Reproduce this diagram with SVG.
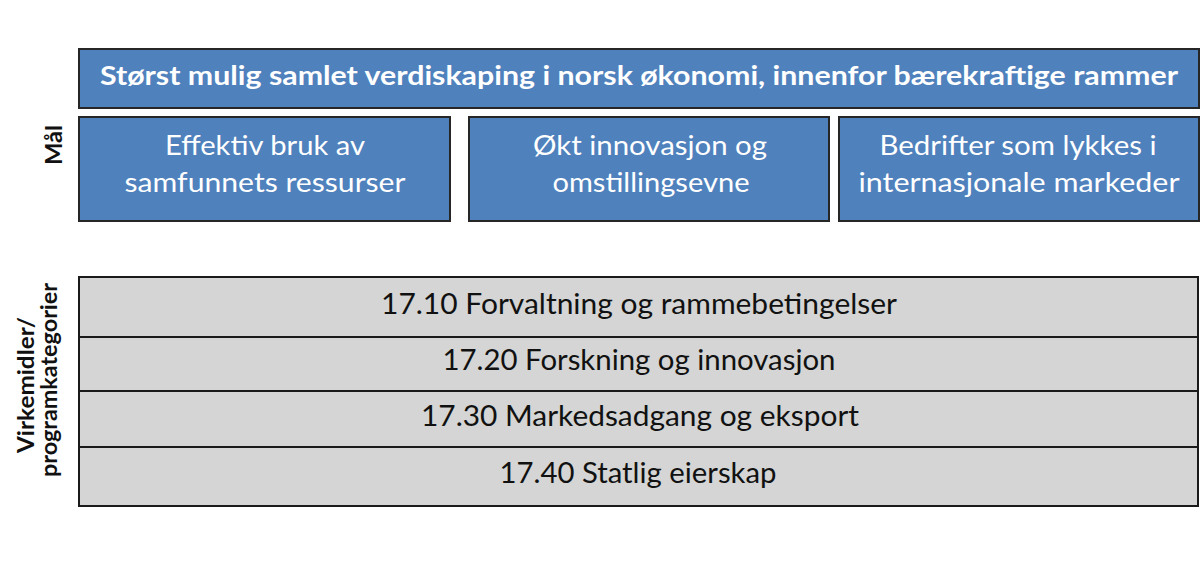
<svg xmlns="http://www.w3.org/2000/svg" width="1200" height="579" viewBox="0 0 1200 579">
<style>
.blue{fill:#4f81bd;stroke:#262626;stroke-width:2}
.gray{fill:#d4d5d4;stroke:#1a1a1a;stroke-width:2}
.div{stroke:#1a1a1a;stroke-width:2}
.wt{fill:#ffffff;font-family:Lato,"Open Sans",sans-serif;font-size:26px;text-anchor:middle}
.wb{fill:#ffffff;font-family:Lato,"Open Sans",sans-serif;font-size:26px;font-weight:bold;text-anchor:middle}
.bt{fill:#111111;font-family:Lato,"Open Sans",sans-serif;font-size:28px;text-anchor:middle}
.side{fill:#111111;font-family:Lato,"Open Sans",sans-serif;font-size:23px;font-weight:bold;text-anchor:middle}
</style>
<rect width="1200" height="579" fill="#ffffff"/>
<g id="label-mal">
<text class="side" transform="translate(62,145) rotate(-90)" textLength="40" lengthAdjust="spacingAndGlyphs">Mål</text>
</g>
<g id="label-virkemidler">
<text class="side" transform="translate(34,385) rotate(-90)" textLength="136" lengthAdjust="spacingAndGlyphs">Virkemidler/</text>
<text class="side" transform="translate(57,380) rotate(-90)" textLength="194" lengthAdjust="spacingAndGlyphs">programkategorier</text>
</g>
<g id="goal-main">
<rect class="blue" x="79" y="49" width="1120" height="59"/>
<text class="wb" x="639" y="85" textLength="1078" lengthAdjust="spacingAndGlyphs">Størst mulig samlet verdiskaping i norsk økonomi, innenfor bærekraftige rammer</text>
</g>
<g id="goal-1">
<rect class="blue" x="79" y="117" width="371" height="104"/>
<text class="wt" x="265" y="155" textLength="200" lengthAdjust="spacingAndGlyphs">Effektiv bruk av</text>
<text class="wt" x="265" y="192" textLength="281" lengthAdjust="spacingAndGlyphs">samfunnets ressurser</text>
</g>
<g id="goal-2">
<rect class="blue" x="469" y="117" width="360" height="104"/>
<text class="wt" x="650" y="155" textLength="234" lengthAdjust="spacingAndGlyphs">Økt innovasjon og</text>
<text class="wt" x="651" y="192" textLength="197" lengthAdjust="spacingAndGlyphs">omstillingsevne</text>
</g>
<g id="goal-3">
<rect class="blue" x="839" y="117" width="360" height="104"/>
<text class="wt" x="1018" y="155" textLength="277" lengthAdjust="spacingAndGlyphs">Bedrifter som lykkes i</text>
<text class="wt" x="1019" y="192" textLength="321" lengthAdjust="spacingAndGlyphs">internasjonale markeder</text>
</g>
<g id="programs">
<rect class="gray" x="79" y="277" width="1119" height="229"/>
</g>
<g id="connectors">
<line class="div" x1="79" y1="337" x2="1198" y2="337"/>
<line class="div" x1="79" y1="391" x2="1198" y2="391"/>
<line class="div" x1="79" y1="447" x2="1198" y2="447"/>
</g>
<g id="prog-1710">
<text class="bt" x="639" y="314" textLength="516" lengthAdjust="spacingAndGlyphs">17.10 Forvaltning og rammebetingelser</text>
</g>
<g id="prog-1720">
<text class="bt" x="639" y="370" textLength="393" lengthAdjust="spacingAndGlyphs">17.20 Forskning og innovasjon</text>
</g>
<g id="prog-1730">
<text class="bt" x="640" y="426" textLength="438" lengthAdjust="spacingAndGlyphs">17.30 Markedsadgang og eksport</text>
</g>
<g id="prog-1740">
<text class="bt" x="638" y="483" textLength="277" lengthAdjust="spacingAndGlyphs">17.40 Statlig eierskap</text>
</g>
</svg>
